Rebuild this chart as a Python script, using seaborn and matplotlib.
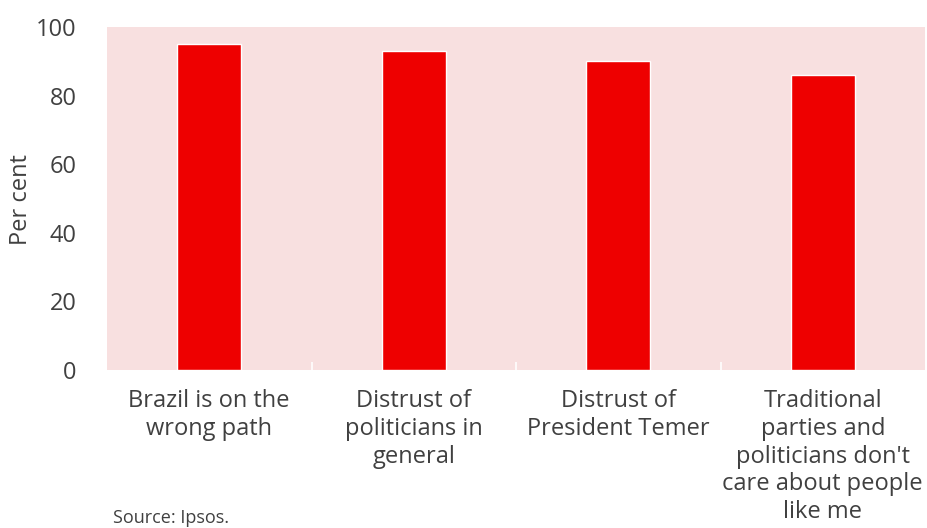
import matplotlib
matplotlib.use("Agg")
import matplotlib.pyplot as plt
import seaborn as sns
import pandas as pd
from matplotlib.ticker import FixedLocator

categories = [
    "Brazil is on the\nwrong path",
    "Distrust of\npoliticians in\ngeneral",
    "Distrust of\nPresident Temer",
    "Traditional\nparties and\npoliticians don't\ncare about people\nlike me",
]
values = [95, 93, 90, 86]
y_ticks = [0, 20, 40, 60, 80, 100]

sns.set_theme(style="white")
plt.rcParams["font.family"] = ["Open Sans", "DejaVu Sans"]

text_color = "#404040"
df = pd.DataFrame({"cat": categories, "val": values})

fig = plt.figure(figsize=(9.27, 5.28), dpi=100)
ax = fig.add_axes([107 / 927, 1 - 370 / 528, 818 / 927, 343 / 528])
sns.barplot(data=df, x="cat", y="val", color="#EE0000", saturation=1,
            width=0.315, ax=ax)
ax.set_facecolor("#F8E0E0")
for s in ax.spines.values():
    s.set_visible(False)
ax.set_ylim(0, 100)
ax.set_xlim(-0.5, len(categories) - 0.5)
ax.set_yticks(y_ticks)
ax.set_yticklabels([str(t) for t in y_ticks], fontsize=17, color=text_color)
ax.tick_params(axis="y", length=0, pad=22)
ax.tick_params(axis="x", which="major", length=0, pad=14, labelsize=17,
               labelcolor=text_color)
ax.xaxis.set_minor_locator(FixedLocator([0.5, 1.5, 2.5]))
ax.tick_params(axis="x", which="minor", direction="in", length=6, width=1.2,
               color="white", bottom=True)
ax.set_xlabel("")
ax.set_ylabel("Per cent", fontsize=17, color=text_color)
ax.yaxis.set_label_coords((33 - 107) / 818, (370 - 200) / 343)
for lbl in ax.get_xticklabels():
    lbl.set_linespacing(1.2)
fig.text(113 / 927, 1 - 518 / 528, "Source: Ipsos.", fontsize=13,
         color=text_color, va="center", ha="left")
fig.savefig("out.png", dpi=100)
